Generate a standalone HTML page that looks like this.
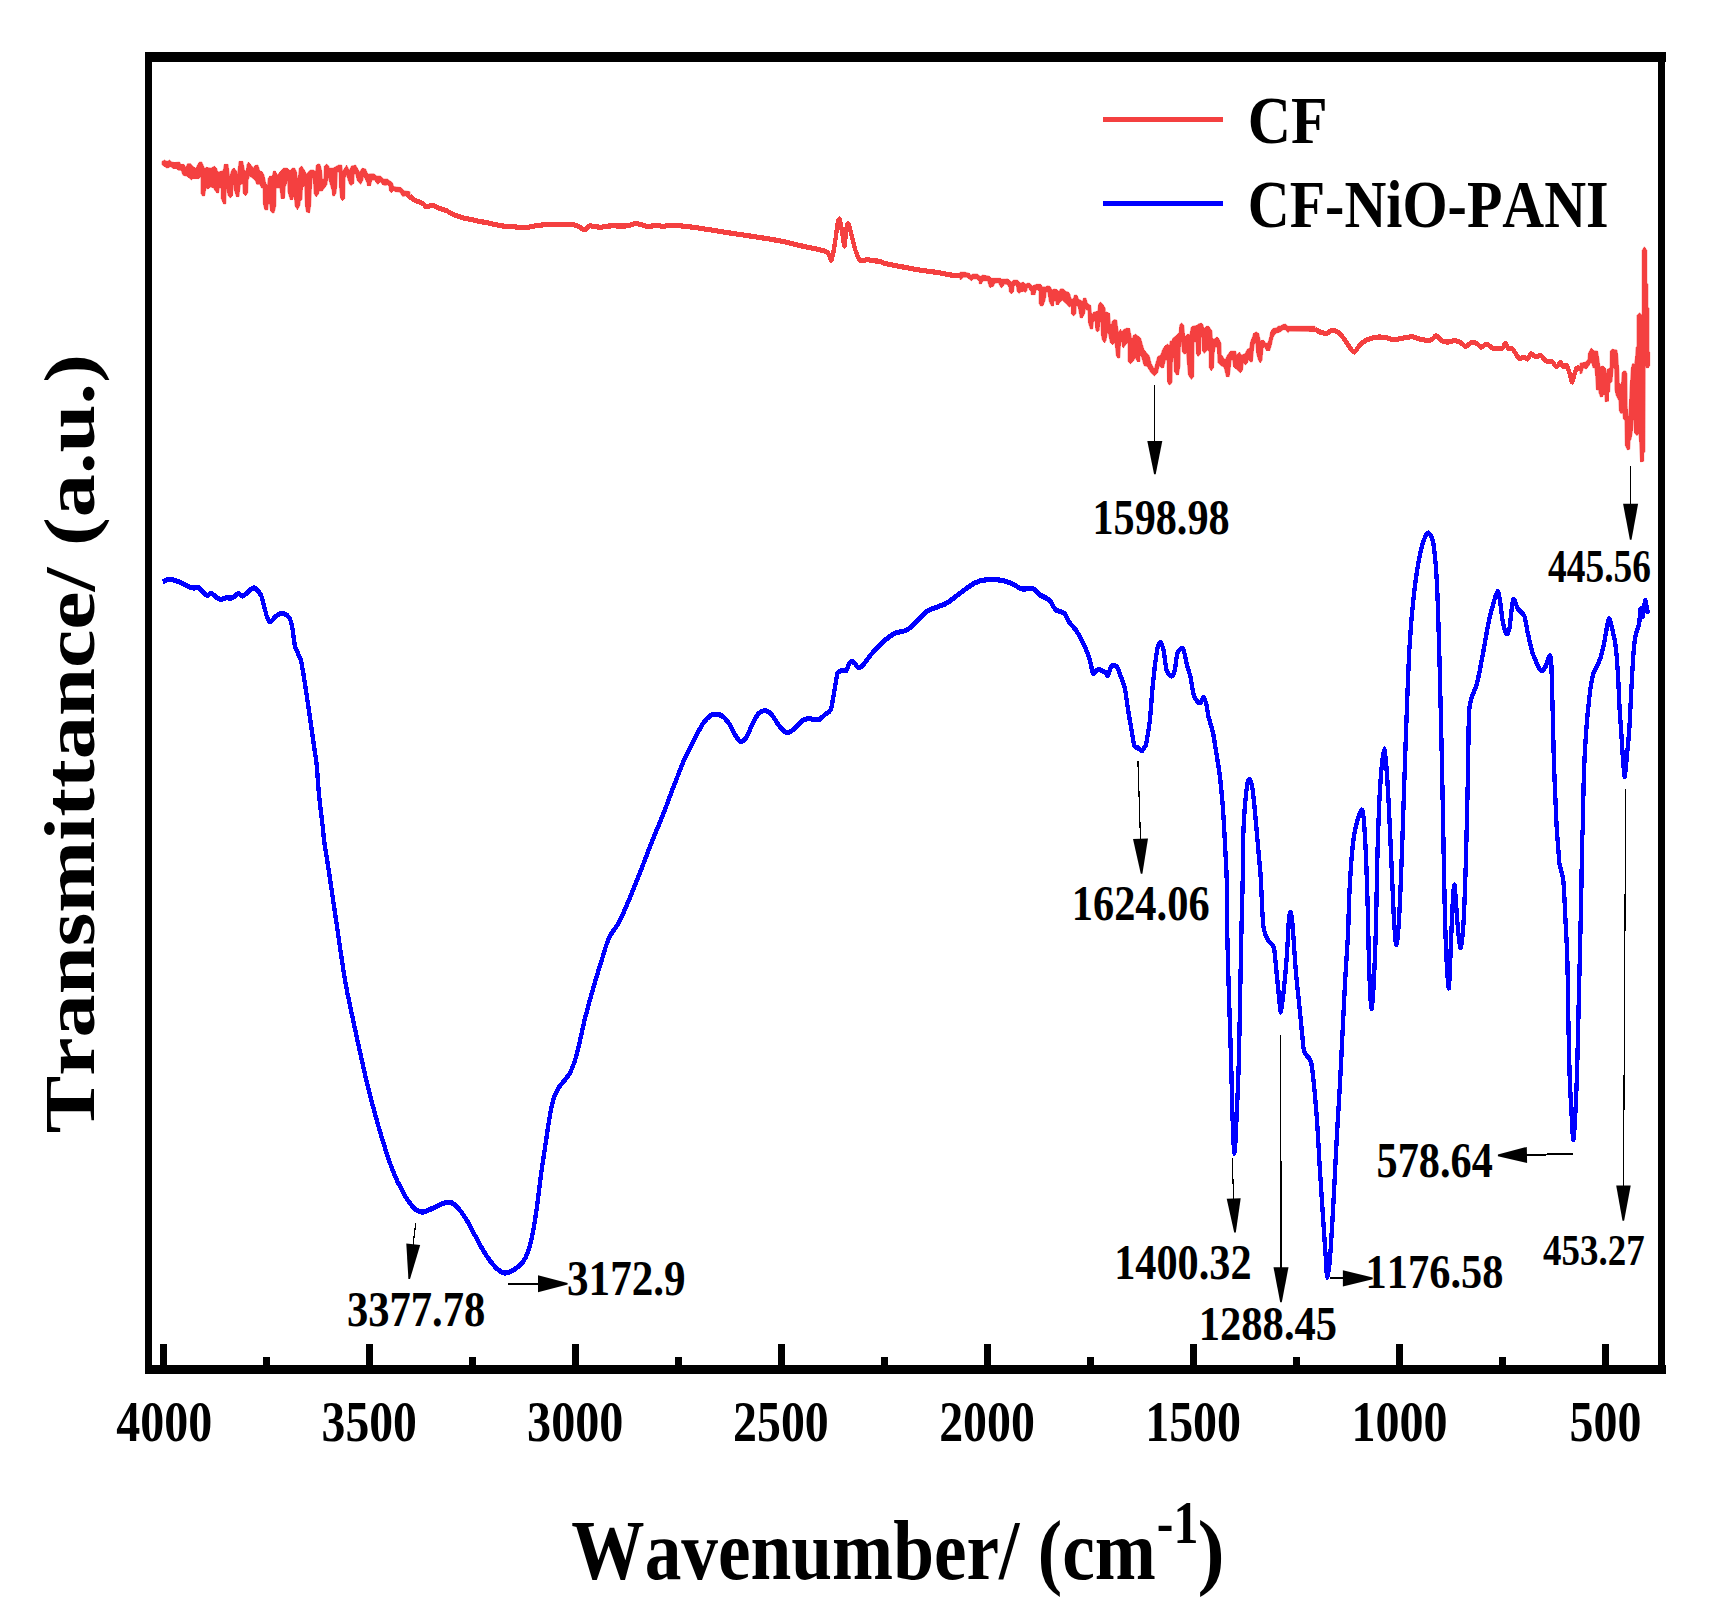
<!DOCTYPE html>
<html><head><meta charset="utf-8"><title>FTIR spectra</title>
<style>html,body{margin:0;padding:0;background:#fff}svg{display:block}</style></head>
<body><svg width="1717" height="1622" viewBox="0 0 1717 1622">
<rect width="1717" height="1622" fill="#fff"/>
<rect x="145" y="52" width="7" height="1322" fill="#000"/>
<rect x="145" y="52" width="1521" height="10" fill="#000"/>
<rect x="1658" y="52" width="7" height="1322" fill="#000"/>
<rect x="145" y="1365" width="1521" height="9" fill="#000"/>
<rect x="160.0" y="1344" width="7" height="22" fill="#000"/>
<rect x="263.0" y="1357" width="7" height="9" fill="#000"/>
<rect x="366.0" y="1344" width="7" height="22" fill="#000"/>
<rect x="469.0" y="1357" width="7" height="9" fill="#000"/>
<rect x="572.0" y="1344" width="7" height="22" fill="#000"/>
<rect x="675.0" y="1357" width="7" height="9" fill="#000"/>
<rect x="778.0" y="1344" width="7" height="22" fill="#000"/>
<rect x="881.0" y="1357" width="7" height="9" fill="#000"/>
<rect x="984.0" y="1344" width="7" height="22" fill="#000"/>
<rect x="1087.0" y="1357" width="7" height="9" fill="#000"/>
<rect x="1190.0" y="1344" width="7" height="22" fill="#000"/>
<rect x="1293.0" y="1357" width="7" height="9" fill="#000"/>
<rect x="1396.0" y="1344" width="7" height="22" fill="#000"/>
<rect x="1499.0" y="1357" width="7" height="9" fill="#000"/>
<rect x="1602.0" y="1344" width="7" height="22" fill="#000"/>
<path d="M410.0,163.2 C410.6,163.6 412.1,165.6 414.0,166.5 C415.9,167.5 421.6,169.0 423.3,169.8 C425.0,170.6 424.3,172.1 425.6,172.3 C427.0,172.5 430.6,171.0 432.6,171.2 C434.6,171.4 437.6,173.1 439.6,173.7 C441.6,174.3 444.6,174.9 446.6,175.6 C448.6,176.4 451.3,178.1 453.6,178.9 C455.9,179.8 459.9,180.8 462.9,181.5 C465.9,182.1 471.2,183.0 474.5,183.6 C477.9,184.2 482.2,184.9 486.2,185.5 C490.2,186.2 498.2,187.7 502.5,188.3 C506.8,188.8 513.2,189.0 516.5,189.2 C519.8,189.5 522.8,190.0 525.8,189.8 C528.8,189.6 533.8,188.3 537.4,187.9 C541.1,187.5 546.4,187.2 551.4,187.1 C556.4,187.0 568.4,186.8 572.4,187.1 C576.4,187.4 577.7,188.6 579.4,189.2 C581.1,189.9 583.0,191.7 584.5,191.6 C586.0,191.4 587.6,188.6 589.9,188.3 C592.1,188.0 597.5,189.4 600.3,189.4 C603.2,189.4 606.0,188.4 609.7,188.3 C613.3,188.1 622.1,188.5 626.0,188.3 C629.8,188.0 633.5,186.3 636.5,186.3 C639.5,186.4 644.1,188.4 646.9,188.6 C649.8,188.9 653.9,187.9 656.3,187.9 C658.6,187.9 660.9,188.7 663.2,188.6 C665.6,188.6 668.6,187.6 672.6,187.7 C676.6,187.8 686.2,188.7 691.2,189.2 C696.2,189.7 702.5,190.5 707.5,191.2 C712.5,191.8 720.8,193.0 726.2,193.7 C731.5,194.4 739.5,195.4 744.8,196.0 C750.1,196.7 758.1,197.6 763.4,198.4 C768.7,199.1 777.7,200.3 782.1,201.1 C786.4,201.8 790.3,202.8 794.0,203.5 C797.7,204.2 804.0,205.4 808.0,206.1 C811.9,206.8 819.1,207.9 821.9,208.6 C824.8,209.2 826.7,209.6 828.0,210.8 C829.4,211.9 830.5,217.8 831.5,216.6 C832.5,215.3 834.2,206.4 835.0,202.0 C835.9,197.6 837.0,188.7 837.7,186.0 C838.4,183.3 839.2,181.6 839.9,183.1 C840.6,184.5 841.9,193.1 842.6,196.2 C843.2,199.3 844.1,205.8 844.6,204.9 C845.2,204.1 845.8,193.0 846.4,190.4 C846.9,187.8 847.7,185.9 848.5,186.7 C849.2,187.6 850.7,193.2 851.6,196.2 C852.6,199.2 854.0,204.9 855.1,207.8 C856.3,210.8 858.4,215.2 859.5,216.6 C860.6,217.9 861.9,217.3 863.0,217.3 C864.1,217.3 866.1,216.3 867.4,216.3 C868.6,216.3 870.0,217.1 871.7,217.3 C873.5,217.5 877.7,217.4 879.6,217.7 C881.5,218.1 881.6,218.8 884.8,219.5 C888.1,220.2 897.3,221.6 902.3,222.4 C907.3,223.2 914.8,224.4 919.8,225.0 C924.8,225.7 933.0,226.5 937.3,227.1 C941.5,227.6 946.2,228.5 949.5,229.0 C952.7,229.4 958.2,229.8 960.0,229.9 C961.8,230.1 961.7,229.9 962.0,229.9" transform="scale(1,1.2)" fill="none" stroke="#F44040" stroke-width="4.3" stroke-linejoin="round" stroke-linecap="butt" shape-rendering="crispEdges"/>
<path d="M1315.0,274.1 C1315.7,274.4 1318.0,276.1 1319.7,276.6 C1321.4,277.1 1324.9,277.9 1326.7,277.8 C1328.4,277.6 1330.2,275.5 1331.9,275.4 C1333.7,275.4 1336.9,276.0 1338.9,277.3 C1340.9,278.6 1344.2,282.6 1345.9,284.6 C1347.7,286.6 1349.9,289.9 1351.2,291.2 C1352.4,292.4 1353.4,293.9 1354.6,293.4 C1355.9,292.8 1358.1,289.0 1359.9,287.5 C1361.6,286.1 1364.4,284.1 1366.9,283.2 C1369.4,282.2 1374.6,281.3 1377.4,281.0 C1380.1,280.7 1383.9,281.0 1386.1,281.3 C1388.3,281.6 1390.6,283.1 1393.1,283.2 C1395.6,283.2 1400.8,282.1 1403.6,281.7 C1406.3,281.4 1409.6,280.5 1412.3,280.7 C1415.1,280.9 1420.0,282.8 1422.8,283.2 C1425.5,283.5 1429.7,283.6 1431.5,283.2 C1433.4,282.7 1434.4,279.7 1435.9,279.8 C1437.4,279.9 1440.4,283.1 1442.0,283.9 C1443.6,284.6 1445.5,285.1 1447.3,285.1 C1449.0,285.1 1452.4,283.9 1454.2,283.9 C1456.1,283.9 1458.7,284.7 1460.4,285.3 C1462.0,286.0 1464.0,288.6 1465.6,288.6 C1467.2,288.6 1470.1,285.6 1471.7,285.3 C1473.3,285.1 1475.6,285.9 1477.0,286.5 C1478.3,287.1 1480.0,289.4 1481.3,289.4 C1482.7,289.5 1484.8,286.7 1486.6,286.8 C1488.3,286.9 1491.3,290.0 1493.6,290.4 C1495.8,290.9 1500.6,290.6 1502.3,290.0 C1504.0,289.4 1504.4,286.0 1505.3,286.1 C1506.1,286.1 1507.3,289.7 1508.4,290.4 C1509.5,291.2 1511.3,290.0 1512.8,291.2 C1514.3,292.3 1517.3,297.5 1518.9,298.5 C1520.5,299.4 1522.9,297.6 1524.1,297.7 C1525.4,297.8 1526.6,299.6 1527.6,299.2 C1528.6,298.8 1530.0,295.1 1531.1,294.8 C1532.2,294.5 1534.1,297.1 1535.5,297.3 C1536.9,297.5 1539.2,295.8 1540.7,296.3 C1542.2,296.7 1544.3,299.9 1546.0,300.6 C1547.6,301.4 1550.6,300.6 1552.1,301.4 C1553.6,302.1 1555.3,305.6 1556.5,305.7 C1557.7,305.8 1559.5,302.1 1560.5,302.1 C1561.5,302.1 1562.5,305.4 1563.4,305.7 C1564.4,306.1 1566.0,303.6 1566.9,304.6 C1567.9,305.5 1569.2,310.5 1570.0,312.4 C1570.8,314.3 1571.4,318.9 1572.3,318.2 C1573.2,317.4 1575.1,308.9 1576.2,307.3 C1577.3,305.7 1579.5,307.1 1580.0,307.1" transform="scale(1,1.2)" fill="none" stroke="#F44040" stroke-width="4.3" stroke-linejoin="round" stroke-linecap="butt" shape-rendering="crispEdges"/>
<polygon points="162.0,161.4 164.5,160.0 167.1,161.4 169.4,160.0 172.0,162.1 174.7,162.5 179.6,162.1 181.1,164.4 184.1,164.4 185.7,167.4 187.6,163.6 190.6,163.5 192.9,166.3 195.9,168.5 197.4,165.1 199.3,162.1 201.9,162.1 204.6,168.5 206.5,167.3 211.0,168.2 214.4,166.1 216.7,168.5 217.8,172.0 223.1,170.8 224.3,164.4 228.1,164.4 229.6,176.5 231.8,169.7 234.1,168.0 236.4,170.8 237.5,174.2 239.0,161.4 242.8,161.4 244.7,170.8 246.2,170.8 247.0,164.4 248.5,162.1 253.4,167.8 254.9,165.5 258.0,165.1 259.9,171.2 262.1,171.6 264.0,175.0 265.9,183.3 267.4,185.6 268.2,178.4 269.7,176.1 272.0,176.5 273.5,171.2 275.4,171.2 277.3,175.0 280.3,171.6 283.4,168.2 287.2,168.2 290.2,170.8 292.1,168.2 294.8,168.2 296.7,172.0 297.0,179.5 298.5,175.0 299.3,168.2 301.6,165.9 304.2,169.7 306.5,174.2 309.1,170.8 310.7,170.1 313.3,170.1 315.6,171.2 316.3,165.1 318.2,164.0 320.1,164.4 321.6,170.4 322.4,179.1 323.9,178.8 324.3,166.3 326.6,164.0 328.8,165.9 329.2,168.2 333.0,168.2 338.3,165.1 341.7,165.1 342.5,170.8 344.7,168.2 346.6,165.1 349.3,170.4 351.5,165.9 355.7,165.1 359.5,172.0 362.1,168.2 365.6,168.9 367.8,174.2 370.9,173.8 373.9,173.8 376.9,176.1 380.7,176.1 383.7,179.1 387.5,179.1 392.4,182.6 393.6,186.3 396.6,187.1 401.1,187.5 404.2,190.9 410.0,191.6 410.0,200.0 405.7,195.8 402.7,196.6 399.6,192.0 395.1,191.6 393.6,190.5 391.3,192.8 389.4,190.5 389.0,186.0 387.5,184.8 385.2,185.6 382.2,184.4 380.3,181.8 377.7,184.4 374.6,180.3 372.0,179.9 370.5,185.6 367.4,185.6 367.1,183.3 363.7,175.7 362.9,180.3 360.6,184.4 357.2,180.3 355.7,174.2 354.2,174.2 353.8,183.3 351.2,185.6 349.7,184.4 348.1,180.3 346.6,175.0 345.1,178.0 344.7,198.5 342.5,200.7 340.6,198.5 339.4,187.1 339.1,172.0 337.5,172.0 336.8,186.3 336.0,193.2 334.5,195.8 332.6,195.8 332.2,190.9 329.2,181.0 328.1,176.5 326.9,184.8 322.4,190.9 319.0,190.9 318.6,193.9 316.3,196.9 314.1,193.9 313.3,180.3 312.2,176.9 311.0,198.5 310.7,206.0 309.5,212.8 306.5,212.1 305.4,206.0 304.6,186.0 302.7,187.1 302.0,199.2 300.4,201.5 299.7,206.0 297.4,209.8 295.1,206.0 294.0,195.4 292.5,199.6 290.2,199.6 287.9,191.6 287.6,180.3 285.3,187.1 284.5,198.5 281.1,198.5 279.9,187.9 276.1,187.9 275.8,206.0 274.2,212.8 272.0,212.8 270.5,210.6 269.7,204.1 268.2,204.5 267.8,209.8 264.8,209.8 263.3,203.8 263.1,187.9 261.4,187.9 259.9,184.4 256.8,184.4 254.9,179.9 249.6,176.1 248.1,180.3 247.7,193.2 245.5,195.8 243.2,193.2 242.8,184.1 241.3,184.1 240.2,185.6 239.0,196.6 236.4,196.6 234.1,189.4 233.0,181.0 232.6,195.4 230.3,198.1 228.1,195.4 226.2,187.9 225.8,203.8 223.5,203.8 221.2,198.5 221.2,187.9 219.4,187.9 218.6,192.8 216.7,192.8 214.8,190.5 213.7,187.9 210.3,187.1 208.0,189.0 206.1,187.9 204.6,195.8 202.3,195.8 201.0,193.5 201.0,176.5 198.9,178.6 192.9,178.6 191.3,179.9 186.8,176.1 183.0,175.4 181.1,170.4 178.5,170.4 176.2,168.5 173.2,168.5 170.5,166.7 168.2,167.8 166.4,167.8 162.0,164.8" fill="#F44040" stroke="#F44040" stroke-width="0.6" stroke-linejoin="round" shape-rendering="crispEdges"/>
<polygon points="960.0,272.2 965.1,272.2 969.6,273.5 970.9,275.1 972.8,274.1 977.3,274.1 980.5,276.3 982.4,275.1 985.0,275.4 989.5,276.3 991.4,278.3 1000.4,278.3 1001.6,279.2 1005.5,279.2 1007.4,278.9 1009.3,279.9 1011.3,282.1 1013.2,280.2 1017.7,280.2 1020.2,283.1 1023.4,282.1 1025.3,284.0 1027.9,283.1 1029.8,283.4 1032.4,285.9 1036.2,284.3 1040.7,284.3 1042.6,286.9 1045.8,286.9 1047.1,285.9 1049.7,286.3 1051.0,287.5 1051.6,289.8 1054.2,289.1 1056.7,289.5 1059.0,291.4 1060.6,289.1 1063.1,289.1 1065.1,291.1 1068.3,292.4 1070.0,294.0 1070.0,307.1 1068.3,305.8 1067.0,302.3 1065.1,302.6 1062.2,300.0 1059.9,302.3 1058.7,304.5 1056.1,304.5 1055.8,301.0 1053.9,301.0 1053.5,305.8 1051.3,305.8 1049.4,302.3 1048.7,298.4 1047.8,292.0 1046.2,292.0 1045.8,297.2 1044.9,301.0 1043.0,305.8 1040.4,305.8 1039.1,303.6 1039.1,291.4 1037.8,289.8 1035.9,290.1 1035.3,294.6 1031.1,294.6 1031.1,291.4 1029.5,290.1 1028.9,287.5 1027.3,288.2 1026.9,290.8 1025.3,292.7 1024.1,291.4 1021.2,291.7 1019.3,293.6 1017.0,291.4 1016.4,286.3 1015.1,285.0 1014.1,286.6 1013.5,291.7 1011.3,294.0 1009.3,291.7 1009.0,287.5 1007.4,284.7 1004.2,284.0 1003.6,285.9 1001.3,287.9 999.7,285.6 998.4,282.7 994.9,283.1 993.3,286.6 991.7,286.6 990.4,287.9 989.1,286.3 987.5,280.8 983.1,280.8 981.5,283.7 979.2,283.7 979.2,281.5 976.7,278.9 973.1,278.9 971.5,280.8 969.6,279.5 967.0,277.3 963.2,277.3 961.3,279.5 960.0,279.5" fill="#F44040" stroke="#F44040" stroke-width="0.6" stroke-linejoin="round" shape-rendering="crispEdges"/>
<polygon points="1060.0,289.2 1063.8,289.2 1066.1,292.2 1068.7,292.2 1071.4,299.0 1073.2,299.0 1074.4,295.2 1077.0,295.2 1078.5,299.0 1082.7,301.3 1083.5,298.2 1086.1,298.2 1087.3,303.2 1090.7,305.4 1091.8,315.3 1093.3,312.3 1097.9,311.1 1098.6,303.9 1100.5,302.0 1102.8,304.3 1105.4,308.5 1105.4,311.5 1109.6,313.4 1110.7,326.6 1112.2,321.3 1114.1,319.4 1116.8,320.2 1118.3,331.9 1120.6,329.3 1122.1,332.3 1123.2,329.7 1126.6,328.2 1129.7,328.5 1131.9,339.9 1133.4,335.3 1135.7,334.2 1140.6,338.0 1144.0,349.7 1149.3,355.8 1151.2,363.4 1154.3,369.0 1155.8,363.0 1157.7,356.5 1160.7,355.0 1162.6,349.4 1164.9,345.9 1167.5,344.1 1169.4,345.6 1170.2,341.0 1172.1,341.0 1172.8,338.0 1175.8,336.1 1179.2,332.3 1179.6,325.1 1181.5,322.9 1183.8,325.1 1184.9,337.2 1187.3,334.2 1189.9,334.6 1191.1,327.4 1192.6,326.3 1196.4,325.5 1199.0,323.6 1201.7,323.2 1203.2,325.1 1203.9,328.9 1206.2,326.3 1208.8,326.3 1211.9,330.8 1212.6,339.1 1214.9,338.8 1216.8,336.9 1218.7,338.4 1221.0,343.3 1221.3,354.3 1225.1,360.0 1227.4,355.0 1230.4,351.2 1235.7,351.2 1236.5,355.0 1239.5,352.0 1241.4,355.0 1244.8,353.9 1247.1,349.4 1249.7,347.8 1250.5,341.8 1252.4,337.2 1253.5,333.5 1256.2,331.9 1258.8,333.5 1260.3,340.6 1263.7,340.3 1266.0,343.3 1267.9,342.9 1269.8,336.5 1270.6,331.9 1272.8,328.5 1277.0,327.8 1277.7,326.3 1280.8,325.9 1282.7,324.4 1285.7,324.2 1288.0,326.3 1315.0,326.3 1315.0,331.6 1289.5,331.2 1288.3,332.7 1286.8,331.6 1285.7,329.7 1283.4,329.7 1279.6,332.3 1275.9,333.1 1273.2,337.2 1271.3,345.6 1269.8,350.5 1266.4,350.5 1264.5,347.1 1263.0,347.8 1262.2,360.0 1260.3,363.0 1258.4,360.0 1256.5,353.1 1255.8,343.3 1254.3,344.1 1253.1,354.7 1252.4,361.8 1250.5,361.8 1248.2,359.6 1247.8,362.2 1245.6,364.9 1243.3,363.0 1242.5,370.6 1240.3,372.8 1236.5,369.4 1233.5,366.8 1232.7,360.0 1231.2,360.0 1230.4,368.3 1229.3,376.6 1226.3,376.6 1224.0,367.1 1221.3,366.0 1217.9,362.6 1217.2,347.1 1215.3,347.1 1214.1,353.9 1213.6,367.5 1211.3,370.9 1209.2,367.5 1209.2,351.6 1207.3,350.1 1204.3,353.5 1202.4,350.9 1202.0,337.2 1200.9,337.2 1200.5,353.9 1198.2,356.5 1196.4,353.9 1196.0,341.8 1194.1,341.8 1193.7,376.6 1191.4,379.6 1188.4,375.1 1187.3,363.0 1186.5,353.1 1185.0,353.9 1183.8,353.9 1182.3,351.6 1181.5,341.8 1180.4,347.8 1180.0,366.0 1178.5,374.7 1176.2,374.7 1174.3,371.3 1173.9,358.4 1173.2,358.4 1172.4,363.0 1172.1,381.9 1170.9,384.2 1169.0,384.9 1167.5,381.9 1167.1,360.0 1165.6,360.0 1163.7,367.5 1161.8,367.9 1159.2,366.0 1157.7,372.8 1154.3,375.9 1150.9,372.8 1147.1,366.4 1144.0,365.6 1141.4,356.5 1139.9,355.0 1139.9,361.5 1137.2,361.5 1135.3,357.7 1133.4,361.1 1130.4,363.7 1128.1,361.5 1128.1,343.3 1127.0,342.9 1123.6,347.8 1122.5,347.1 1122.1,341.8 1120.9,341.8 1120.2,350.1 1119.8,357.7 1117.9,358.1 1116.4,356.2 1114.9,342.5 1112.6,344.8 1110.3,342.5 1108.5,334.2 1107.3,333.1 1106.2,340.3 1104.7,342.9 1102.4,340.3 1101.3,335.0 1100.9,322.1 1099.7,322.1 1099.4,330.4 1097.1,331.9 1095.6,329.7 1095.2,321.0 1093.7,321.0 1092.6,328.9 1090.3,328.9 1088.4,322.9 1088.0,310.7 1085.4,309.2 1084.6,313.8 1082.3,317.9 1080.1,317.6 1078.2,307.0 1076.3,305.4 1075.9,313.8 1073.6,316.0 1071.4,313.8 1071.4,305.8 1069.1,307.0 1065.7,303.2 1062.3,300.1 1060.0,302.0" fill="#F44040" stroke="#F44040" stroke-width="0.6" stroke-linejoin="round" shape-rendering="crispEdges"/>
<polygon points="1580.0,363.2 1586.0,362.0 1588.0,358.8 1588.4,353.2 1591.2,348.0 1594.0,350.8 1597.6,351.2 1599.2,360.4 1600.0,366.8 1603.2,366.0 1605.6,368.5 1606.3,374.1 1607.3,369.3 1610.1,367.7 1610.3,350.8 1612.1,349.2 1616.9,350.0 1617.7,354.4 1618.9,370.1 1619.3,382.9 1621.3,384.9 1622.1,372.9 1623.7,370.9 1626.1,371.3 1626.9,373.7 1627.3,405.7 1628.1,418.9 1628.9,412.9 1630.1,386.1 1631.3,368.1 1632.5,363.6 1634.5,363.6 1635.3,358.8 1636.1,347.2 1636.1,347.0 1637.0,346.7 1637.0,315.3 1639.6,312.7 1642.2,315.3 1642.2,250.2 1644.4,246.8 1646.8,250.2 1646.8,283.8 1647.9,283.8 1647.9,307.9 1649.0,307.9 1649.0,351.9 1649.7,352.0 1649.7,365.6 1648.5,367.7 1646.1,367.7 1645.3,366.0 1644.9,452.2 1643.7,453.0 1643.7,461.4 1640.5,461.8 1639.7,445.0 1638.9,433.4 1636.9,435.8 1634.5,433.0 1633.7,420.1 1632.9,420.1 1632.5,430.6 1631.3,438.6 1630.1,441.4 1629.7,449.4 1627.3,449.8 1625.3,445.4 1624.9,420.9 1623.3,418.5 1622.9,412.9 1620.9,413.7 1619.3,410.9 1618.9,400.9 1616.1,395.3 1614.9,389.7 1614.5,368.5 1613.3,367.7 1612.1,381.7 1610.1,383.3 1609.7,392.1 1608.5,392.1 1608.5,401.3 1605.2,401.7 1604.8,394.5 1603.2,394.5 1602.8,396.5 1600.4,396.9 1598.8,392.5 1598.8,390.1 1596.4,389.7 1595.6,376.5 1594.8,367.7 1592.8,367.7 1592.0,363.2 1590.0,363.2 1589.2,365.6 1586.4,368.9 1583.2,368.1 1582.0,373.3 1580.0,373.7" fill="#F44040" stroke="#F44040" stroke-width="0.6" stroke-linejoin="round" shape-rendering="crispEdges"/>
<path d="M162.9,484.9 C163.7,484.6 166.4,482.9 168.5,482.9 C170.6,482.8 175.1,483.6 177.7,484.4 C180.4,485.2 184.7,487.4 187.0,488.2 C189.2,489.1 191.9,489.9 193.5,490.1 C195.0,490.3 196.8,489.0 198.1,489.5 C199.4,489.9 201.4,492.2 202.7,493.2 C204.0,494.1 206.1,496.1 207.3,496.3 C208.5,496.4 209.7,494.2 211.0,494.4 C212.4,494.6 215.3,497.1 216.6,497.8 C217.9,498.5 219.0,499.4 220.3,499.5 C221.6,499.6 224.2,498.4 225.8,498.3 C227.4,498.1 230.1,498.5 231.4,498.3 C232.7,498.0 234.1,497.3 235.1,496.7 C236.1,496.2 237.4,494.4 238.4,494.4 C239.5,494.4 241.2,496.8 242.5,496.7 C243.7,496.7 245.6,495.0 247.1,494.1 C248.6,493.2 251.3,490.5 252.7,490.1 C254.0,489.7 255.2,490.2 256.3,491.0 C257.5,491.9 259.9,494.1 261.0,496.0 C262.0,497.8 263.0,501.2 263.7,503.7 C264.5,506.1 265.9,511.0 266.5,512.9 C267.2,514.8 267.7,516.1 268.4,516.8 C269.0,517.5 270.2,518.2 271.1,517.8 C272.1,517.5 273.7,515.3 274.8,514.4 C276.0,513.6 278.1,512.1 279.5,511.7 C280.8,511.2 282.6,510.9 284.1,511.4 C285.5,511.9 288.5,513.5 289.6,515.2 C290.8,517.0 291.6,520.3 292.4,523.7 C293.2,527.1 294.0,535.4 295.2,539.1 C296.4,542.9 299.4,545.9 300.7,549.9 C302.1,553.9 303.2,560.7 304.4,566.9 C305.6,573.0 307.9,586.2 309.1,593.1 C310.3,599.9 311.7,608.5 312.8,614.6 C313.8,620.8 315.5,629.2 316.5,636.2 C317.4,643.3 318.3,656.2 319.2,664.0 C320.2,671.7 322.2,685.0 322.9,690.2 C323.6,695.3 323.1,694.2 324.0,700.0 C325.0,705.8 327.9,720.6 329.7,730.7 C331.5,740.9 334.6,758.4 336.8,770.9 C339.0,783.4 342.7,805.7 345.3,818.2 C347.9,830.7 352.2,846.5 355.2,858.3 C358.3,870.2 363.1,889.1 366.6,900.9 C370.0,912.7 375.7,930.6 379.3,941.1 C383.0,951.5 388.7,966.5 392.1,974.1 C395.5,981.7 400.4,989.7 403.4,994.2 C406.5,998.8 410.7,1003.8 413.4,1006.1 C416.0,1008.3 419.2,1009.9 421.9,1010.1 C424.5,1010.2 429.0,1008.2 431.8,1007.2 C434.6,1006.3 439.1,1004.0 441.7,1003.2 C444.4,1002.5 448.0,1001.6 450.2,1002.0 C452.5,1002.4 455.1,1004.1 457.3,1006.1 C459.6,1008.0 463.4,1012.3 465.8,1015.5 C468.3,1018.7 471.9,1024.8 474.3,1028.5 C476.8,1032.2 480.4,1038.1 482.8,1041.5 C485.3,1044.9 488.9,1049.6 491.4,1052.1 C493.8,1054.7 497.8,1058.0 499.9,1059.2 C501.9,1060.5 503.5,1061.0 505.5,1060.9 C507.6,1060.7 511.6,1059.3 514.0,1058.0 C516.5,1056.8 520.5,1054.3 522.6,1052.1 C524.6,1049.9 526.8,1046.1 528.2,1042.7 C529.6,1039.3 531.3,1033.6 532.5,1028.5 C533.7,1023.4 535.5,1014.3 536.7,1007.2 C537.9,1000.1 539.8,986.3 541.0,978.9 C542.2,971.4 544.0,962.0 545.2,955.2 C546.5,948.5 548.3,937.3 549.5,931.6 C550.7,925.9 552.3,918.8 553.7,915.1 C555.2,911.3 557.2,908.5 559.4,905.6 C561.6,902.7 566.9,898.7 569.3,895.0 C571.8,891.3 574.2,886.2 576.4,879.6 C578.7,873.0 582.5,857.0 584.9,848.9 C587.4,840.8 591.0,830.0 593.5,822.9 C595.9,815.8 599.7,805.2 602.0,799.3 C604.2,793.4 606.6,785.9 609.0,781.5 C611.5,777.1 615.9,773.4 619.0,768.5 C622.0,763.6 627.1,753.7 630.3,747.3 C633.6,740.9 638.6,730.1 641.7,723.6 C644.7,717.2 648.3,708.8 651.5,702.2 C654.6,695.6 660.4,684.3 663.7,677.5 C666.9,670.6 671.2,660.6 674.2,654.2 C677.2,647.7 681.7,638.0 684.6,632.3 C687.6,626.7 692.4,619.2 695.1,614.9 C697.9,610.5 701.6,604.4 703.9,601.8 C706.1,599.1 709.1,597.2 710.9,596.2 C712.6,595.3 714.5,595.2 716.1,595.2 C717.7,595.3 720.3,595.5 722.2,596.7 C724.1,597.8 727.3,600.9 729.2,603.2 C731.1,605.5 733.7,610.6 735.3,612.7 C736.9,614.8 738.9,617.6 740.6,617.8 C742.2,618.0 744.9,616.3 746.7,614.1 C748.4,612.0 751.0,605.3 752.8,602.5 C754.5,599.7 757.0,595.9 758.9,594.5 C760.8,593.0 764.0,592.1 765.9,592.3 C767.8,592.5 770.1,594.2 772.0,595.9 C773.9,597.7 777.1,602.7 779.0,604.7 C780.9,606.7 783.5,609.0 785.1,609.8 C786.7,610.5 788.7,610.4 790.4,609.8 C792.0,609.2 794.7,606.8 796.5,605.4 C798.2,604.1 800.8,601.2 802.6,600.3 C804.3,599.4 807.1,599.0 808.7,598.9 C810.3,598.8 812.4,599.5 813.9,599.6 C815.4,599.7 817.6,600.2 819.2,599.6 C820.8,599.0 823.7,596.4 825.3,595.2 C826.9,594.1 829.4,593.6 830.5,591.6 C831.7,589.6 832.4,584.7 833.2,581.4 C833.9,578.1 835.2,571.2 835.8,568.3 C836.4,565.4 836.8,562.4 837.5,561.0 C838.3,559.6 839.8,559.1 841.0,558.8 C842.3,558.5 845.1,559.5 846.3,558.8 C847.4,558.1 848.1,554.8 848.9,553.7 C849.6,552.6 850.6,551.2 851.5,551.1 C852.4,551.0 854.1,552.3 855.0,553.0 C855.9,553.7 856.6,555.6 857.6,555.9 C858.6,556.2 860.5,556.2 862.0,555.2 C863.5,554.1 866.9,549.9 868.1,548.6 C869.3,547.3 868.5,547.8 870.5,546.0 C872.4,544.2 878.3,538.4 881.8,535.8 C885.3,533.2 891.3,529.4 894.9,527.8 C898.6,526.3 903.9,526.5 907.2,524.9 C910.4,523.3 914.7,519.2 917.7,516.9 C920.7,514.6 924.1,510.9 928.1,508.9 C932.1,506.9 941.4,504.9 945.6,503.1 C949.9,501.2 953.9,498.2 957.8,495.8 C961.8,493.4 969.8,488.1 973.6,486.3 C977.3,484.6 980.3,483.8 984.1,483.4 C987.8,483.0 995.8,483.0 999.8,483.4 C1003.8,483.8 1008.9,485.3 1012.0,486.3 C1015.1,487.4 1018.6,490.1 1021.6,490.7 C1024.6,491.3 1030.4,490.0 1033.0,490.7 C1035.6,491.4 1037.6,494.4 1040.0,495.8 C1042.3,497.1 1047.3,498.4 1049.6,500.2 C1051.8,501.9 1053.6,506.6 1055.7,508.2 C1057.8,509.7 1062.4,509.5 1064.4,511.1 C1066.4,512.6 1068.0,517.1 1069.7,519.1 C1071.3,521.1 1073.8,522.4 1075.8,524.9 C1077.8,527.4 1081.7,533.0 1083.6,536.6 C1085.6,540.1 1088.5,546.3 1089.8,549.7 C1091.0,553.0 1091.8,558.2 1092.4,559.9 C1093.0,561.5 1093.4,561.6 1094.1,561.3 C1094.9,561.1 1096.1,558.3 1097.6,558.1 C1099.1,557.9 1103.2,559.2 1104.6,559.9 C1106.1,560.5 1106.8,563.5 1107.8,562.8 C1108.8,562.0 1110.3,555.8 1111.6,554.8 C1112.9,553.8 1115.6,554.6 1116.8,555.8 C1118.1,556.9 1119.2,560.3 1120.3,562.8 C1121.5,565.2 1123.7,569.4 1124.7,573.0 C1125.7,576.5 1126.5,582.9 1127.3,587.5 C1128.2,592.1 1129.8,600.2 1130.8,605.0 C1131.8,609.8 1133.3,618.4 1134.3,621.0 C1135.3,623.6 1136.7,622.6 1137.8,623.2 C1138.9,623.8 1141.1,625.7 1142.2,625.4 C1143.3,625.1 1145.1,621.9 1145.7,621.0 C1146.3,620.1 1145.8,621.8 1146.4,618.8 C1147.0,615.8 1149.0,606.5 1149.9,600.1 C1150.7,593.7 1151.7,580.8 1152.4,574.2 C1153.2,567.6 1154.3,559.0 1155.0,554.1 C1155.8,549.1 1156.8,542.4 1157.6,539.7 C1158.4,537.0 1159.9,535.0 1160.7,535.4 C1161.6,535.8 1162.8,539.3 1163.7,542.6 C1164.5,545.8 1165.5,555.4 1166.6,558.4 C1167.7,561.4 1170.2,563.4 1171.4,563.4 C1172.6,563.4 1174.0,561.2 1174.9,558.4 C1175.7,555.6 1176.3,546.5 1177.5,544.0 C1178.7,541.5 1181.8,539.7 1183.2,541.1 C1184.5,542.6 1185.9,550.8 1187.0,554.1 C1188.0,557.4 1189.5,560.6 1190.4,564.1 C1191.4,567.6 1192.7,575.7 1193.5,578.5 C1194.4,581.3 1195.5,582.5 1196.5,583.6 C1197.4,584.6 1199.4,586.0 1200.4,585.7 C1201.4,585.4 1202.6,581.4 1203.4,581.4 C1204.2,581.4 1205.2,583.5 1206.0,585.7 C1206.7,588.0 1207.6,593.7 1208.5,597.2 C1209.5,600.7 1211.8,605.9 1212.9,610.2 C1214.0,614.5 1215.3,622.3 1216.3,627.4 C1217.3,632.6 1218.9,640.4 1219.8,646.1 C1220.6,651.9 1221.7,661.5 1222.4,667.7 C1223.0,673.9 1223.6,683.1 1224.1,689.3 C1224.5,695.5 1225.1,704.7 1225.5,710.9 C1225.8,717.0 1226.4,723.1 1226.7,732.4 C1226.9,741.8 1226.9,762.5 1227.2,776.5 C1227.5,790.5 1228.4,815.0 1229.0,830.4 C1229.6,845.8 1230.6,870.5 1231.1,884.4 C1231.6,898.3 1231.9,916.6 1232.4,927.5 C1232.8,938.5 1233.8,961.0 1234.4,961.0 C1235.1,961.0 1236.1,938.5 1236.8,927.5 C1237.4,916.6 1238.4,898.3 1238.8,884.4 C1239.3,870.5 1239.8,845.8 1240.1,830.4 C1240.5,815.0 1241.1,790.4 1241.4,776.5 C1241.8,762.6 1242.5,741.7 1242.7,733.3 C1242.9,725.0 1242.6,724.4 1242.7,718.1 C1242.8,711.8 1243.2,696.5 1243.6,689.3 C1244.0,682.1 1244.8,672.9 1245.3,667.7 C1245.9,662.6 1246.8,655.9 1247.4,653.3 C1247.9,650.8 1248.5,649.8 1249.1,649.7 C1249.7,649.6 1250.7,650.7 1251.4,652.6 C1252.0,654.6 1252.8,658.6 1253.4,663.4 C1254.1,668.2 1255.3,679.6 1256.0,686.4 C1256.8,693.2 1257.9,704.3 1258.6,710.9 C1259.3,717.4 1260.2,723.7 1260.8,732.4 C1261.5,741.2 1262.3,764.8 1263.4,772.2 C1264.6,779.5 1267.1,781.6 1268.6,784.0 C1270.1,786.5 1272.7,785.9 1273.8,789.4 C1274.9,793.0 1275.6,803.0 1276.4,808.9 C1277.1,814.7 1278.3,825.5 1279.0,830.4 C1279.6,835.4 1280.2,843.7 1280.8,843.4 C1281.4,843.1 1282.5,834.8 1283.4,828.3 C1284.2,821.8 1286.0,806.7 1286.7,798.1 C1287.5,789.4 1288.3,773.3 1288.8,767.9 C1289.4,762.5 1290.1,759.7 1290.6,760.3 C1291.2,760.9 1292.0,765.2 1292.7,772.2 C1293.4,779.1 1294.8,799.0 1295.8,808.9 C1296.8,818.7 1298.8,833.5 1299.7,841.2 C1300.6,848.9 1301.6,857.7 1302.3,862.8 C1302.9,867.9 1303.1,873.7 1304.4,876.8 C1305.6,879.9 1309.5,880.5 1310.8,884.4 C1312.2,888.2 1313.0,896.7 1313.9,903.8 C1314.8,910.9 1316.2,924.5 1317.0,934.0 C1317.9,943.6 1318.8,959.3 1319.6,970.7 C1320.5,982.1 1322.1,1003.1 1323.0,1013.9 C1323.8,1024.6 1325.0,1039.0 1325.6,1046.2 C1326.2,1053.5 1326.7,1064.6 1327.4,1064.6 C1328.1,1064.6 1329.4,1055.0 1330.2,1046.2 C1331.1,1037.4 1332.4,1016.9 1333.4,1003.1 C1334.3,989.2 1335.8,963.0 1336.7,949.1 C1337.6,935.2 1339.0,918.3 1339.8,906.0 C1340.6,893.6 1341.7,875.1 1342.4,862.8 C1343.2,850.5 1344.2,832.0 1345.0,819.6 C1345.8,807.3 1347.5,787.0 1348.1,776.5 C1348.7,766.0 1348.7,756.0 1349.3,746.1 C1349.9,736.3 1351.4,716.0 1352.4,707.6 C1353.4,699.1 1354.9,691.6 1356.4,687.0 C1357.8,682.4 1361.2,672.5 1362.5,675.5 C1363.9,678.4 1364.9,695.6 1365.6,707.6 C1366.4,719.5 1367.3,744.3 1367.8,758.9 C1368.3,773.6 1368.7,798.8 1369.3,810.3 C1369.9,821.9 1370.9,843.5 1371.8,839.9 C1372.7,836.2 1374.7,803.5 1375.5,784.6 C1376.3,765.7 1377.0,725.9 1377.6,707.6 C1378.3,689.2 1379.2,668.1 1380.1,656.2 C1381.0,644.3 1383.0,624.1 1384.1,624.1 C1385.2,624.1 1386.8,642.4 1387.8,656.2 C1388.9,670.0 1390.6,704.6 1391.5,720.4 C1392.4,736.2 1393.3,757.1 1394.0,766.7 C1394.7,776.2 1395.7,788.3 1396.4,787.2 C1397.2,786.1 1398.7,772.2 1399.5,758.9 C1400.4,745.7 1401.7,714.9 1402.6,694.7 C1403.5,674.5 1404.7,639.7 1405.7,617.7 C1406.7,595.6 1408.2,558.2 1409.4,540.6 C1410.6,523.0 1412.5,505.7 1414.0,494.4 C1415.6,483.0 1418.6,467.6 1420.2,461.0 C1421.7,454.4 1423.6,450.5 1424.8,448.1 C1426.0,445.7 1427.6,443.5 1428.8,444.3 C1430.0,445.0 1432.3,446.8 1433.4,453.3 C1434.6,459.7 1436.3,474.9 1437.1,489.2 C1438.0,503.5 1438.9,533.3 1439.6,553.4 C1440.3,573.6 1441.2,610.3 1441.8,630.5 C1442.3,650.7 1442.9,676.4 1443.3,694.7 C1443.7,713.1 1444.4,744.3 1444.8,758.9 C1445.3,773.6 1445.8,788.3 1446.4,797.5 C1447.0,806.7 1448.2,825.0 1448.9,823.2 C1449.5,821.3 1450.4,795.6 1451.0,784.6 C1451.6,773.6 1452.6,752.7 1453.2,746.1 C1453.7,739.5 1454.1,735.5 1454.7,738.4 C1455.3,741.3 1456.4,759.3 1457.2,766.7 C1458.0,774.0 1459.4,789.0 1460.3,789.8 C1461.1,790.5 1462.5,781.7 1463.3,771.8 C1464.1,761.9 1465.1,738.8 1465.8,720.4 C1466.5,702.1 1467.4,662.1 1468.0,643.4 C1468.5,624.6 1468.2,600.0 1469.5,589.4 C1470.8,578.8 1475.2,575.7 1477.2,568.9 C1479.2,562.0 1482.1,548.3 1483.7,541.3 C1485.3,534.3 1487.0,525.0 1488.3,519.7 C1489.6,514.4 1491.6,508.1 1492.9,504.3 C1494.3,500.4 1496.5,492.9 1497.6,492.7 C1498.6,492.5 1499.6,498.9 1500.3,502.7 C1501.1,506.6 1502.2,516.1 1503.1,519.7 C1504.0,523.3 1505.9,527.7 1506.8,528.2 C1507.7,528.6 1508.8,526.4 1509.6,522.8 C1510.4,519.1 1511.7,506.0 1512.4,502.7 C1513.0,499.4 1513.4,499.0 1514.2,499.7 C1515.0,500.3 1516.5,505.4 1517.9,507.4 C1519.4,509.3 1522.9,510.4 1524.4,513.5 C1525.8,516.6 1526.9,524.5 1528.1,528.9 C1529.3,533.3 1531.4,540.8 1532.7,544.4 C1534.0,547.9 1536.1,551.5 1537.3,553.6 C1538.6,555.7 1540.2,558.8 1541.4,559.0 C1542.6,559.2 1544.5,556.9 1545.7,555.1 C1546.8,553.4 1548.6,547.1 1549.4,546.7 C1550.2,546.2 1550.8,548.0 1551.2,552.1 C1551.6,556.1 1551.9,567.5 1552.1,575.2 C1552.4,582.9 1552.8,597.2 1553.1,606.0 C1553.3,614.8 1553.6,628.0 1554.0,636.8 C1554.3,645.6 1555.1,660.0 1555.5,667.7 C1555.9,675.4 1556.3,684.6 1556.8,690.8 C1557.2,696.9 1558.2,706.7 1558.6,710.8 C1559.0,715.0 1558.8,716.3 1559.5,719.7 C1560.1,723.1 1562.6,727.9 1563.4,734.5 C1564.2,741.1 1564.8,756.6 1565.4,765.8 C1565.9,774.9 1566.9,786.9 1567.3,798.6 C1567.8,810.4 1568.0,833.9 1568.3,848.0 C1568.7,862.1 1569.2,885.5 1569.7,897.3 C1570.2,909.0 1571.2,922.7 1571.7,930.2 C1572.2,937.7 1572.8,949.9 1573.3,949.9 C1573.8,949.9 1574.7,938.9 1575.2,930.2 C1575.8,921.5 1576.7,902.0 1577.2,889.1 C1577.7,876.1 1578.2,852.7 1578.6,839.7 C1579.0,826.8 1579.4,811.6 1579.8,798.6 C1580.1,785.7 1580.8,763.4 1581.2,749.3 C1581.5,735.2 1581.9,708.4 1582.1,700.0 C1582.4,691.6 1582.4,698.7 1582.7,690.8 C1582.9,682.9 1583.5,655.6 1583.9,644.5 C1584.4,633.5 1585.1,622.5 1585.8,613.7 C1586.5,604.9 1588.1,590.2 1589.1,582.9 C1590.1,575.6 1591.2,567.7 1592.8,562.9 C1594.4,558.0 1598.6,552.7 1600.2,549.0 C1601.8,545.2 1602.9,540.8 1603.9,536.7 C1605.0,532.5 1606.8,522.7 1607.6,519.7 C1608.4,516.7 1608.8,515.2 1609.5,515.8 C1610.1,516.5 1611.4,521.3 1612.2,524.3 C1613.1,527.3 1614.6,531.6 1615.4,536.7 C1616.2,541.7 1617.2,552.1 1617.8,559.8 C1618.4,567.5 1619.1,582.9 1619.6,590.6 C1620.2,598.3 1621.0,607.1 1621.5,613.7 C1622.0,620.3 1622.9,632.1 1623.3,636.8 C1623.8,641.6 1624.3,648.0 1624.8,646.9 C1625.3,645.8 1626.4,635.0 1627.0,629.1 C1627.7,623.3 1628.8,613.7 1629.4,606.0 C1630.1,598.3 1630.7,584.0 1631.3,575.2 C1631.9,566.4 1632.9,550.7 1633.5,544.4 C1634.1,538.0 1634.6,534.0 1635.4,530.5 C1636.2,527.0 1638.3,523.0 1639.1,519.7 C1639.8,516.4 1640.0,508.2 1640.5,507.4 C1641.1,506.5 1642.1,514.5 1642.8,513.5 C1643.4,512.5 1644.5,501.1 1645.2,500.4 C1645.8,499.8 1646.9,507.4 1647.4,508.9 C1647.9,510.4 1648.5,510.9 1648.7,511.2" transform="scale(1,1.2)" fill="none" stroke="#0000FF" stroke-width="4.3" stroke-linejoin="round" stroke-linecap="butt" shape-rendering="crispEdges"/>
<rect x="1103" y="117" width="120" height="5" fill="#F44040"/>
<rect x="1103" y="201" width="120" height="5" fill="#0000FF"/>
<g font-family="Liberation Serif, serif" font-weight="bold" fill="#000" style="font-kerning:none"><text transform="translate(116.28,1441.23) scale(0.8388,1)" font-size="57.19">4000</text>
<text transform="translate(321.59,1441.23) scale(0.8334,1)" font-size="57.19">3500</text>
<text transform="translate(527.07,1441.23) scale(0.8425,1)" font-size="57.19">3000</text>
<text transform="translate(733.09,1441.23) scale(0.8361,1)" font-size="57.19">2500</text>
<text transform="translate(939.19,1441.23) scale(0.8370,1)" font-size="57.19">2000</text>
<text transform="translate(1145.16,1441.23) scale(0.8390,1)" font-size="57.19">1500</text>
<text transform="translate(1351.56,1441.23) scale(0.8399,1)" font-size="57.19">1000</text>
<text transform="translate(1569.58,1441.23) scale(0.8374,1)" font-size="57.19">500</text>
<text transform="translate(1247.71,143.32) scale(0.8850,1)" font-size="67.61">CF</text>
<text transform="translate(1247.80,227.33) scale(0.8698,1)" font-size="66.71">CF-NiO-PANI</text>
<text transform="translate(1092.42,534.03) scale(0.8229,1)" font-size="51.32">1598.98</text>
<text transform="translate(1548.04,582.02) scale(0.8199,1)" font-size="45.63">445.56</text>
<text transform="translate(1071.70,920.23) scale(0.8248,1)" font-size="51.47">1624.06</text>
<text transform="translate(346.90,1325.55) scale(0.8567,1)" font-size="49.71">3377.78</text>
<text transform="translate(567.08,1295.24) scale(0.8557,1)" font-size="50.37">3172.9</text>
<text transform="translate(1114.22,1279.45) scale(0.8504,1)" font-size="49.71">1400.32</text>
<text transform="translate(1198.80,1340.26) scale(0.8663,1)" font-size="49.12">1288.45</text>
<text transform="translate(1365.61,1288.46) scale(0.8554,1)" font-size="49.56">1176.58</text>
<text transform="translate(1376.61,1176.55) scale(0.8429,1)" font-size="50.15">578.64</text>
<text transform="translate(1543.05,1265.24) scale(0.8339,1)" font-size="44.30">453.27</text>
<text transform="translate(571.30,1579.06) scale(0.8585,1)" font-size="85.44">Wavenumber/ (cm</text>
<text transform="translate(1156.85,1543.20) scale(0.8096,1)" font-size="61.68">-1</text>
<text transform="translate(1197.55,1579.06) scale(0.9543,1)" font-size="85.44">)</text>
<text transform="translate(93.84,1133.29) rotate(-90) scale(1.1881,1)" font-size="72.67">Transmittance/ (a.u.)</text></g>
<line x1="1154.5" y1="385.0" x2="1154.8" y2="441.9" stroke="#000" stroke-width="1.2" shape-rendering="crispEdges"/><polygon points="1147.3,440.9 1154.1,474.2 1155.7,474.2 1162.3,440.9" fill="#000"/>
<line x1="1630.5" y1="466.0" x2="1630.6" y2="504.8" stroke="#000" stroke-width="1.2" shape-rendering="crispEdges"/><polygon points="1623.1,503.8 1629.9,539.8 1631.5,539.8 1638.1,503.8" fill="#000"/>
<line x1="1137.9" y1="760.5" x2="1140.5" y2="839.8" stroke="#000" stroke-width="1.2" shape-rendering="crispEdges"/><polygon points="1133.0,839.1 1140.8,873.8 1142.4,873.8 1148.0,838.6" fill="#000"/>
<line x1="415.7" y1="1223.0" x2="413.1" y2="1245.2" stroke="#000" stroke-width="1.2" shape-rendering="crispEdges"/><polygon points="406.3,1243.4 408.4,1278.9 410.0,1279.1 420.2,1245.0" fill="#000"/>
<line x1="507.5" y1="1283.7" x2="539.0" y2="1283.7" stroke="#000" stroke-width="2.0" shape-rendering="crispEdges"/><polygon points="538.0,1292.2 567.6,1284.5 567.6,1282.9 538.0,1275.2" fill="#000"/>
<line x1="1232.1" y1="1157.6" x2="1233.7" y2="1199.5" stroke="#000" stroke-width="1.2" shape-rendering="crispEdges"/><polygon points="1226.7,1198.8 1234.2,1232.5 1235.8,1232.5 1240.7,1198.3" fill="#000"/>
<line x1="1280.8" y1="1034.8" x2="1281.0" y2="1268.2" stroke="#000" stroke-width="1.2" shape-rendering="crispEdges"/><polygon points="1273.5,1267.2 1280.2,1302.2 1281.8,1302.2 1288.5,1267.2" fill="#000"/>
<line x1="1330.0" y1="1278.4" x2="1343.9" y2="1278.4" stroke="#000" stroke-width="2.0" shape-rendering="crispEdges"/><polygon points="1342.9,1286.6 1372.7,1279.2 1372.7,1277.6 1342.9,1270.2" fill="#000"/>
<line x1="1573.0" y1="1154.0" x2="1526.0" y2="1154.9" stroke="#000" stroke-width="2.0" shape-rendering="crispEdges"/><polygon points="1526.8,1146.9 1497.9,1154.6 1497.9,1156.2 1527.1,1162.9" fill="#000"/>
<line x1="1625.7" y1="789.2" x2="1623.5" y2="1186.4" stroke="#000" stroke-width="1.2" shape-rendering="crispEdges"/><polygon points="1616.2,1185.4 1622.5,1220.8 1624.1,1220.8 1630.7,1185.4" fill="#000"/>
</svg></body></html>
